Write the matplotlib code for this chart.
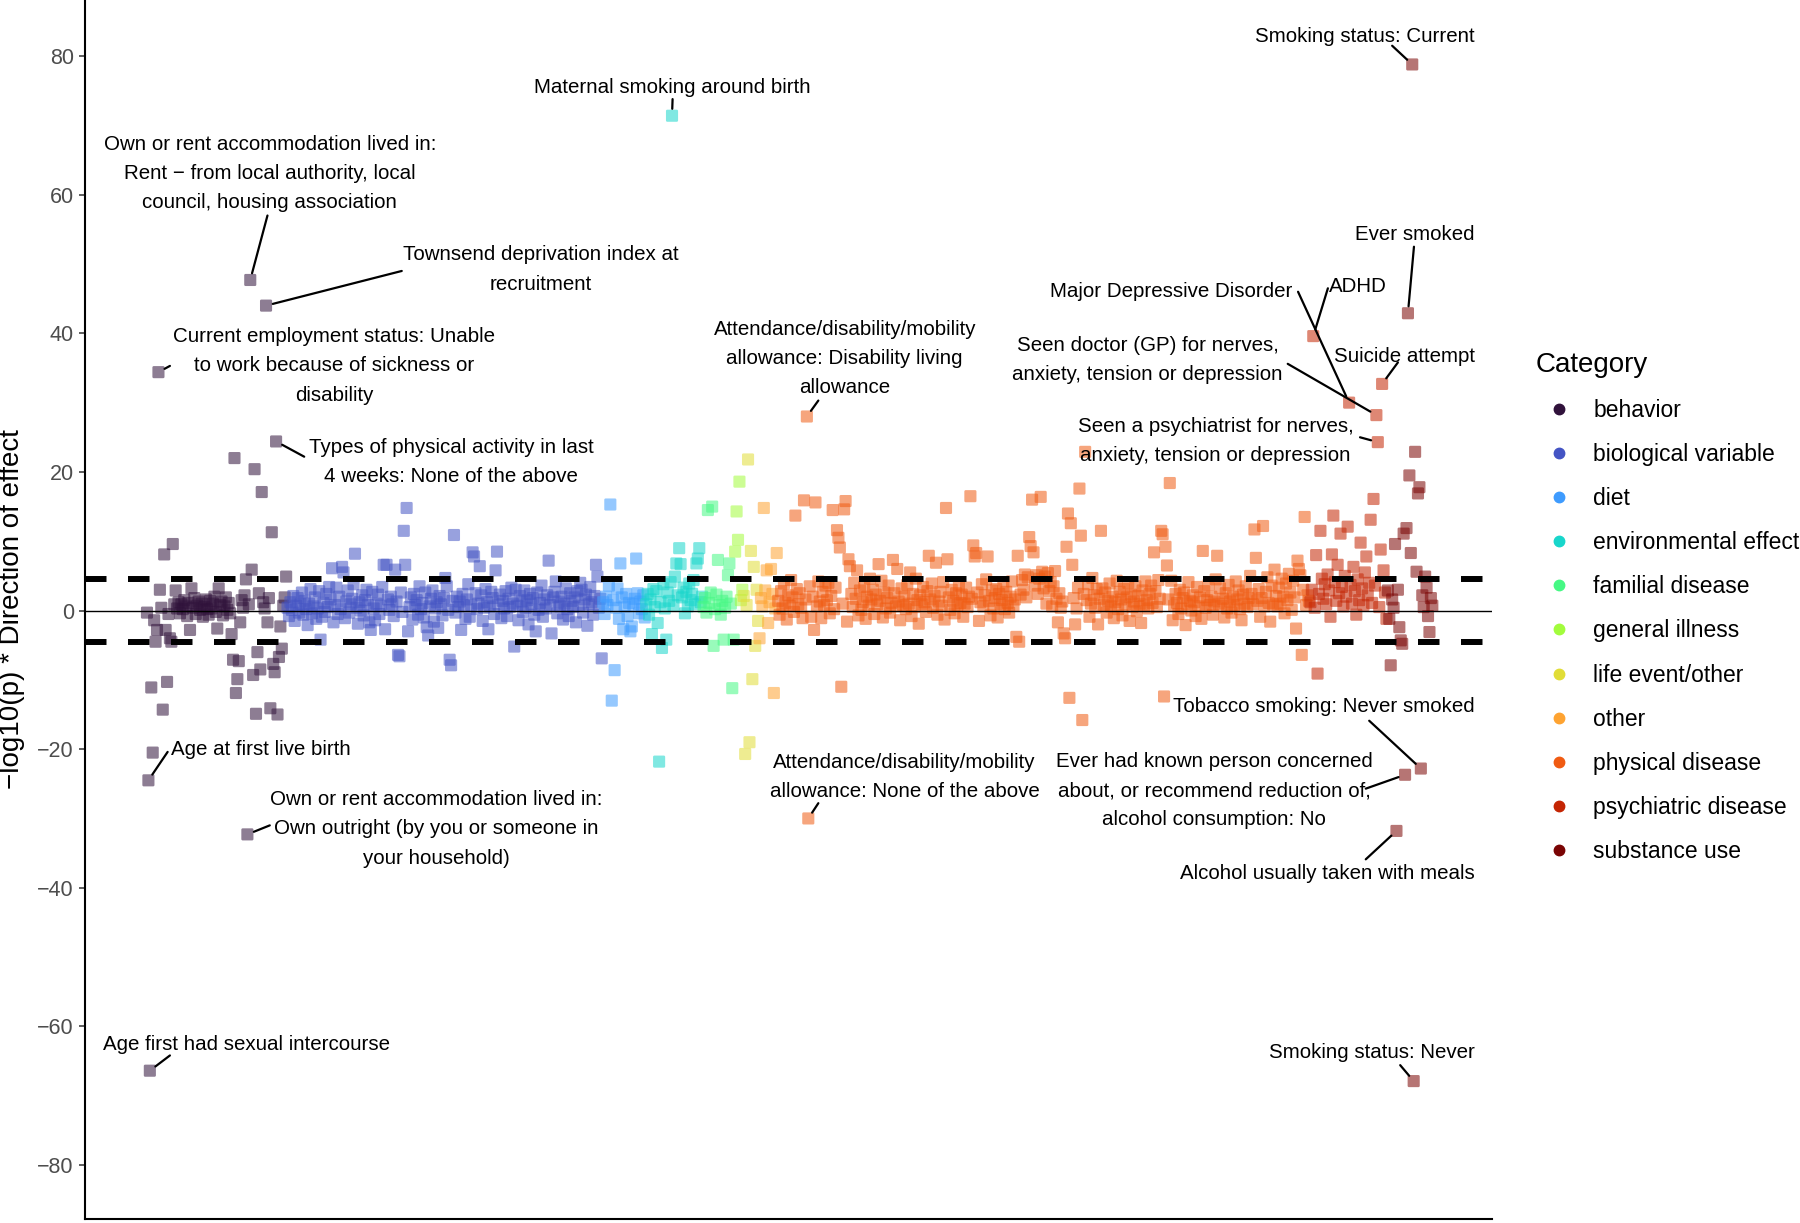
import numpy as np
import matplotlib
matplotlib.use("Agg")
import matplotlib.pyplot as plt
from matplotlib.lines import Line2D
from matplotlib.path import Path

plt.rcParams['font.family'] = ['Liberation Sans', 'DejaVu Sans']

categories = ['behavior', 'biological variable', 'diet', 'environmental effect',
              'familial disease', 'general illness', 'life event/other', 'other',
              'physical disease', 'psychiatric disease', 'substance use']
cat_colors = ['#30123b', '#4454c4', '#3e9bfe', '#18d6cb', '#46f884', '#a2fc3c',
              '#e1dd37', '#fea331', '#f05b12', '#c42503', '#7a0403']

# -log10(p) * sign of effect, phenotypes in plotting order within each category
behavior = [-0.3, -24.5, -66.4, -11.1, -20.5, -1.4, -4.5, -2.8, 34.4, 3.0,
            0.4, -14.3, 8.1, -2.8, -10.3, -0.5, -4.0, -4.5, 9.6, 0.9,
            2.9, 0.3, 1.2, -0.4, 0.9, 0.2, 1.5, 0.6, -0.8, 1.1,
            -2.8, 3.2, 0.4, 1.8, -0.5, 0.7, 1.3, 0.1, 1.0, -0.9,
            0.5, 1.6, 0.2, -0.6, 1.4, 0.3, 1.0, 2.0, -0.2, -2.6,
            3.2, 0.8, 1.3, -0.7, 0.6, 1.9, 0.1, 1.1, -0.4, -3.4,
            -7.1, 22.0, -11.9, -9.9, -7.3, -1.7, 1.5, 0.4, 2.2, 4.5,
            -32.3, 0.9, 47.7, 5.9, -9.3, 20.4, -14.9, -6.0, 2.5, -8.5,
            17.1, 1.2, 0.3, 44.0, -1.7, 1.8, -14.1, 11.3, -7.7, -8.9,
            24.4, -15.0, -6.7, -2.3, -5.5, 0.7, 1.9, 4.9]

biological = [0.4, -0.8, 1.2, 0.1, 2.1, -1.5, 0.7, 1.8, -0.3, 0.9,
              2.6, -0.6, 1.4, 0.2, -2.1, 1.0, 3.1, -0.4, 0.6, 1.9,
              -1.2, 0.3, 2.8, -4.2, -0.9, 1.1, -0.2, 2.4, 0.5, 3.4,
              1.6, 6.1, -1.7, 0.8, 3.3, -0.5, 2.0, 0.2, 6.3, 5.5,
              -1.1, 1.3, 2.9, -0.3, 0.9, 1.7, 3.8, 8.2, 0.4, -1.9,
              1.2, 0.0, 2.2, -0.7, 1.5, 3.0, 0.8, -1.7, -2.8, 2.7,
              0.3, -1.4, 1.0, 2.3, -0.5, 0.7, 3.4, 6.6, -2.7, 6.6,
              1.6, 0.1, 2.0, 0.9, -0.8, 5.9, 1.3, -6.4, -6.6, 2.6,
              -0.2, 11.5, 6.6, 14.8, -3.0, 0.5, 1.9, -1.3, 2.4, 0.8,
              1.5, -0.6, 3.5, 0.2, 1.1, -1.0, 2.6, -2.4, -3.6, 0.6,
              1.7, 2.9, -1.6, 0.3, 1.2, -2.5, 2.1, 0.9, -0.7, 1.8,
              4.7, 3.5, 0.1, -7.1, -7.9, 1.4, 10.9, -0.3, 2.0, 0.5,
              1.3, -2.8, 2.4, 0.7, -1.2, 1.6, 3.8, -0.9, 0.8, 8.4,
              7.8, 2.5, 0.2, 1.0, 6.4, 2.2, -1.5, 0.4, 3.1, 1.2,
              -2.7, 0.6, 2.7, 1.8, -0.5, 5.8, 8.5, 0.9, 2.3, -1.1,
              1.4, 0.3, 2.8, -0.8, 1.7, 0.5, 3.3, 1.0, -5.2, 3.0,
              0.7, -1.4, 2.1, 1.3, -0.2, 2.9, 0.4, 1.5, -2.0, 2.4,
              0.9, 1.8, -0.6, -3.0, 2.6, 0.1, 1.1, 3.6, -0.9, 1.6,
              0.3, 2.2, 7.2, 0.8, -3.3, 1.9, 2.7, 4.2, -0.4, 1.3,
              0.6, 2.0, -1.3, 1.0, 3.2, 0.2, -0.8, 2.5, 1.4, 0.5,
              1.9, -1.7, 2.8, 0.7, 4.0, 3.0, -0.3, 1.6, 2.3, -2.2,
              0.9, 3.4, 1.2, -0.6, 2.1, 6.6, 4.9, 0.4, 1.7, -6.9]

diet = [1.2, -0.5, 2.0, 0.8, 3.6, 15.3, -13.0, 1.5, -8.6, 0.4,
        3.2, -1.2, 6.8, 1.9, -2.7, 0.6, 2.4, -0.8, 1.1, -3.0,
        -2.3, 0.9, 1.7, 7.5, 2.5, -0.4, 1.3, 0.2, 2.2, -1.0]

environmental = [0.9, 2.4, -0.6, 1.6, -3.4, 3.1, 0.5, 2.8, -1.8, -21.8,
                 1.2, -5.4, 3.8, 0.3, -4.2, 2.6, 1.4, 4.1, 71.4, 0.8,
                 4.9, 6.8, 2.2, 9.0, 6.7, 1.9, 3.3, -0.4, 2.7, 0.6,
                 3.9, 1.5, 2.4, 4.4, 0.9, 6.8, 7.5, 9.0, 1.2, 2.0]

familial = [0.5, 1.8, -0.3, 14.5, 1.1, 2.6, 15.0, -5.1, 0.2, 2.3,
            7.3, 0.8, -0.6, 1.4, -4.2, 0.4, 2.0, 5.1, 6.8, 1.0,
            -11.2, -4.2]

general_illness = [8.5, 14.3, 10.2, 18.6, 1.5, 3.0]

life_event = [2.1, -20.7, 0.8, 21.8, -19.0, 8.6, -9.9, 6.3, -5.1, 3.0, -1.5]

other = [-4.0, 1.8, 0.6, 14.8, 2.9, 5.8, -1.8, 1.2, 6.0, 2.4, -11.9, 0.3, 8.3]

physical = [1.4, -0.6, 2.8, 0.3, 3.9, 1.1, -1.3, 2.2, 0.7, 4.4,
            1.9, -0.2, 13.7, 3.1, 0.9, 2.5, 0.4, -1.1, 15.9, 1.6,
            28.0, -30.0, 3.5, -0.9, 2.0, -2.8, 15.6, 0.6, 4.2, 1.3,
            -1.1, 2.7, 0.8, 3.6, 1.5, 4.0, -0.4, 2.1, 14.5, 0.2,
            3.3, 11.6, 10.5, 9.1, -11.0, 1.0, 14.6, 15.8, -1.6, 7.4,
            6.4, 2.4, 0.5, 4.0, 1.7, 5.8, -0.7, 2.9, 0.1, 1.2,
            3.4, -1.2, 2.0, 0.7, 4.6, 1.6, 3.0, -0.5, 2.3, 0.9,
            6.7, 1.4, 4.3, -1.0, 2.6, 0.3, 1.8, 3.6, -0.3, 1.1,
            7.3, 2.5, 0.6, 6.0, 1.3, -1.4, 3.2, 0.8, 2.0, 0.2,
            3.7, 1.0, 5.5, -0.8, 2.4, 0.5, 4.6, 1.5, -1.9, 2.2,
            0.9, 3.4, 1.2, -0.2, 2.8, 7.9, 1.6, 3.9, 0.4, 2.1,
            6.9, -0.6, 1.3, 2.7, 0.7, 4.1, -1.3, 14.8, 7.4, 1.9,
            0.1, 3.0, 1.4, -0.4, 2.5, 0.8, 3.6, 1.1, 2.3, -0.9,
            1.0, 3.3, 0.5, 2.0, 16.5, 1.7, 9.4, 7.8, 8.3, 2.6,
            -1.5, 1.2, 3.8, 0.6, 2.2, 4.5, 7.8, 1.4, -0.7, 2.9,
            0.3, 1.8, 3.1, -1.0, 2.4, 0.9, 1.5, 3.5, 0.2, 2.7,
            1.1, -0.3, 2.0, 4.2, 0.7, 1.6, -3.8, 7.9, -4.5, 2.3,
            4.4, 3.0, 5.2, 1.9, 4.8, 10.6, 9.3, 16.0, 8.4, 3.6,
            5.1, 2.4, 4.6, 16.4, 5.6, 3.2, 4.9, 1.0, 5.4, 2.8,
            4.1, 0.6, 3.5, 5.7, 1.7, -1.7, 2.5, 0.4, 1.3, -3.3,
            -4.0, 9.2, 14.0, -12.6, 12.6, 6.6, 1.8, -2.0, 0.3, 3.3,
            17.6, 10.8, -15.8, 2.4, 22.9, 1.5, 3.8, -0.9, 1.0, 4.7,
            2.2, 0.4, 3.1, -2.0, 1.7, 11.5, 3.2, 0.8, 2.6, -0.3,
            1.4, 3.9, 0.6, 2.0, -1.1, 1.2, 4.3, 0.2, 2.7, 1.6,
            -0.7, 3.1, 0.9, 1.9, 4.0, -1.5, 2.3, 0.5, 1.3, 3.5,
            -0.1, 2.1, 1.0, -1.8, 2.9, 0.7, 4.2, 1.5, 0.3, 2.4,
            3.6, 1.1, 8.4, 2.8, 0.5, 4.4, 1.7, 11.5, 11.0, -12.4,
            9.2, 6.5, 1.6, 18.4, 4.3, -1.4, 0.7, 2.4, 1.1, -0.5,
            3.0, 0.3, 1.8, 2.6, -2.1, 0.9, 4.1, 1.4, 0.0, 2.2,
            1.2, -0.8, 3.4, 0.6, 1.9, -1.2, 8.6, 2.8, 0.4, 1.5,
            3.7, 0.8, 2.0, -0.6, 1.3, 4.5, 7.9, 1.0, 3.2, 0.7,
            1.7, -1.0, 2.5, 0.3, 3.7, 1.3, -0.3, 2.0, 0.8, 4.2,
            1.6, 2.9, 0.2, -1.4, 2.3, 1.0, 3.5, 0.5, 1.8, 5.0,
            2.4, 0.9, 11.7, 7.6, 1.4, 3.1, -0.9, 1.8, 12.2, 0.6,
            2.7, 4.8, 1.1, -1.6, 3.6, 0.9, 5.9, 2.1, 0.6, 3.3,
            1.0, 4.6, 2.0, -0.4, 3.9, 1.5, 5.3, 2.6, 0.1, 4.3,
            1.9, -2.6, 7.2, 6.0, 5.1, -6.4, 3.0, 13.5, 0.8, 2.2,
            1.4]

psychiatric = [1.2, 3.0, 39.6, 0.4, 8.0, -9.1, 2.4, 11.5, 4.6, 1.7,
               3.8, 0.9, 5.2, 2.9, -0.9, 8.1, 13.7, 4.1, 1.4, 6.6,
               2.5, 11.1, 3.4, 0.6, 5.0, 2.0, 12.1, 30.0, 3.7, 1.0,
               6.3, 2.8, -0.6, 4.5, 1.5, 9.8, 3.2, 0.8, 5.5, 7.8,
               2.2, 4.0, 13.1, 1.1, 16.1, 3.6, 28.2, 24.3, 0.5, 8.8,
               32.7, 5.8, 2.6, -1.2]

substance = [2.9, -1.2, -7.9, 1.6, 0.4, 9.6, -31.8, 3.0, -2.4, -4.3,
             -4.8, 11.1, -23.7, 11.9, 42.9, 19.5, 8.3, 78.8, -67.9, 22.9,
             5.6, 16.9, 17.8, -22.8, 2.2, 0.5, 4.9, 3.3, -0.8, -3.1,
             1.8, 0.7]

series = [behavior, biological, diet, environmental, familial, general_illness,
          life_event, other, physical, psychiatric, substance]

sig_line = 4.5

# labelled phenotypes: category, value, text, text position, alignment, leader start
labels = [
    ('substance use', 78.8, 'Smoking status: Current', (925.6, 82.8), 'right', (868, 81.5)),
    ('environmental effect', 71.4, 'Maternal smoking around birth', (366.4, 75.5), 'center', (366.4, 73.8)),
    ('behavior', 47.7, 'Own or rent accommodation lived in:\nRent \u2212 from local authority, local\ncouncil, housing association',
     (85.6, 63.1), 'center', (84, 57.0)),
    ('behavior', 44.0, 'Townsend deprivation index at\nrecruitment', (274.4, 49.2), 'center', (177.6, 49.0)),
    ('behavior', 34.4, 'Current employment status: Unable\nto work because of sickness or\ndisability',
     (130.4, 35.3), 'center', (16, 35.3)),
    ('behavior', 24.4, 'Types of physical activity in last\n4 weeks: None of the above', (212, 21.4), 'center', (109.6, 22.2)),
    ('physical disease', 28.0, 'Attendance/disability/mobility\nallowance: Disability living\nallowance',
     (486.4, 36.4), 'center', (468, 30.3)),
    ('psychiatric disease', 30.0, 'Major Depressive Disorder', (798.4, 46.0), 'right', (802.4, 46.0)),
    ('psychiatric disease', 39.6, 'ADHD', (824, 46.7), 'left', (823.2, 46.5)),
    ('substance use', 42.9, 'Ever smoked', (925.6, 54.3), 'right', (883.2, 52.5)),
    ('psychiatric disease', 28.2, 'Seen doctor (GP) for nerves,\nanxiety, tension or depression', (697.6, 36.1), 'center', (795.2, 35.6)),
    ('psychiatric disease', 32.7, 'Suicide attempt', (925.6, 36.7), 'right', (872, 35.8)),
    ('psychiatric disease', 24.3, 'Seen a psychiatrist for nerves,\nanxiety, tension or depression', (744.8, 24.5), 'center', (845.6, 25.0)),
    ('behavior', -24.5, 'Age at first live birth', (16.8, -20.1), 'left', (14.4, -20.4)),
    ('behavior', -32.3, 'Own or rent accommodation lived in:\nOwn outright (by you or someone in\nyour household)',
     (201.6, -31.5), 'center', (85.6, -31.0)),
    ('behavior', -66.4, 'Age first had sexual intercourse', (-30.4, -62.6), 'left', (16, -64.2)),
    ('physical disease', -30.0, 'Attendance/disability/mobility\nallowance: None of the above', (528, -24.0), 'center', (468, -27.8)),
    ('substance use', -23.7, 'Ever had known person concerned\nabout, or recommend reduction of,\nalcohol consumption: No',
     (744, -26.0), 'center', (849.6, -25.7)),
    ('substance use', -22.8, 'Tobacco smoking: Never smoked', (925.6, -13.9), 'right', (852, -15.9)),
    ('substance use', -31.8, 'Alcohol usually taken with meals', (925.6, -37.9), 'right', (849.6, -35.9)),
    ('substance use', -67.9, 'Smoking status: Never', (925.6, -63.8), 'right', (873.6, -65.6)),
]

# square marker with slightly rounded corners, like ggplot's shape 15
r = 0.22
verts = []
for cx, cy, a0 in [(1 - r, 1 - r, 0), (-1 + r, 1 - r, 90), (-1 + r, -1 + r, 180), (1 - r, -1 + r, 270)]:
    for a in np.linspace(a0, a0 + 90, 6):
        verts.append((cx + r * np.cos(np.radians(a)), cy + r * np.sin(np.radians(a))))
verts.append(verts[0])
rsquare = Path(verts, closed=True)

fig = plt.figure(figsize=(18, 12.23), dpi=100)
ax = fig.add_axes([85 / 1800, 4 / 1223, 1407 / 1800, 1219 / 1223])

xs, ys, cs = [], [], []
starts = {}
pos = 0
for name, vals, col in zip(categories, series, cat_colors):
    starts[name] = pos
    for v in vals:
        xs.append(pos)
        ys.append(v)
        cs.append(col)
        pos += 1

ax.scatter(xs, ys, c=cs, marker=rsquare, s=76, alpha=0.55, linewidths=0, zorder=2)

ax.axhline(0, color='black', lw=1.0, zorder=3)
for yy in (sig_line, -sig_line):
    ax.axhline(yy, color='black', lw=4.3, dashes=(3.6, 3.6), zorder=3)

for cat, val, txt, txy, ha, seg in labels:
    i = categories.index(cat)
    px = starts[cat] + series[i].index(val)
    ax.annotate(txt, xy=(px, val), xytext=txy, ha=ha, va='center',
                multialignment='center', fontsize=14.8, linespacing=1.68, zorder=5)
    ax.annotate('', xy=(px, val), xytext=seg,
                arrowprops=dict(arrowstyle='-', lw=1.6, color='black',
                                shrinkA=0, shrinkB=5), zorder=5)

ax.set_xlim(-43.2, 937.6)
ax.set_ylim(-87.8, 88.1)
ax.set_yticks([-80, -60, -40, -20, 0, 20, 40, 60, 80])
ax.set_xticks([])
ax.tick_params(axis='y', labelsize=15.5, labelcolor='#4d4d4d', color='#333333',
               length=4, width=1.1, pad=4)
for s in ('top', 'right'):
    ax.spines[s].set_visible(False)
for s in ('left', 'bottom'):
    ax.spines[s].set_linewidth(1.5)
ax.set_ylabel('\u2212log10(p) * Direction of effect', fontsize=20, labelpad=9)

handles = [Line2D([], [], marker='o', ls='', color=c, markersize=7.5) for c in cat_colors]
fig.legend(handles, categories, title='Category', loc='upper left',
           bbox_to_anchor=(1536 / 1800, 1 - 352 / 1223), frameon=False,
           fontsize=16.5, title_fontsize=20, handlelength=2.0, handletextpad=0.5,
           labelspacing=0.92, borderpad=0, borderaxespad=0, alignment='left')

fig.savefig('out.png', dpi=100)
